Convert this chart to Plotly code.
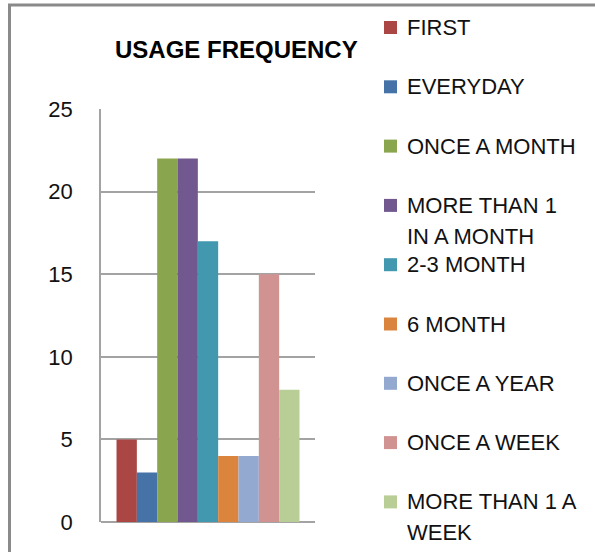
import plotly.graph_objects as go

# Survey responses: how often respondents use the service
series_names = [
    "FIRST",
    "EVERYDAY",
    "ONCE A MONTH",
    "MORE THAN 1\nIN A MONTH",
    "2-3 MONTH",
    "6 MONTH",
    "ONCE A YEAR",
    "ONCE A WEEK",
    "MORE THAN 1 A\nWEEK",
]
series_values = [5, 3, 22, 22, 17, 4, 4, 15, 8]
series_colors = [
    "#AA4643", "#4572A7", "#89A54E", "#71588F", "#4198AF",
    "#DB843D", "#93A9CF", "#D19392", "#B9CD96",
]
y_ticks = [0, 5, 10, 15, 20, 25]

W, H = 595, 552
ML, MR, MT, MB = 101, 280, 109, 30
PW, PH = W - ML - MR, H - MT - MB


def px(x):
    return (x - ML) / PW


def py(y):
    return (H - MB - y) / PH


FONT = "Liberation Sans, Arial, sans-serif"

fig = go.Figure()
for name, val, col in zip(series_names, series_values, series_colors):
    fig.add_trace(go.Bar(
        x=[""], y=[val], name=name.replace("\n", " "),
        marker=dict(color=col, line=dict(width=0)),
        showlegend=False,
    ))

shapes = []
annotations = []

# Outer chart frame (continues past the right and bottom edges)
shapes.append(dict(
    type="rect", xref="paper", yref="paper",
    x0=px(9.5), x1=px(W + 20), y0=py(5), y1=py(H + 20),
    line=dict(color="#8A8A8A", width=3), fillcolor="rgba(0,0,0,0)",
    layer="above",
))

# Title
annotations.append(dict(
    text="<b>USAGE FREQUENCY</b>", xref="paper", yref="paper",
    x=px(236.5), y=py(49), xanchor="center", yanchor="middle",
    showarrow=False, font=dict(family=FONT, size=24, color="#000000"),
))

# Legend drawn as colour keys with labels, one row every 59 px
row_top = 27.5
row_step = 59.3
line_step = 31
for i, (name, col) in enumerate(zip(series_names, series_colors)):
    cy = row_top + i * row_step
    shapes.append(dict(
        type="rect", xref="paper", yref="paper",
        x0=px(384), x1=px(397), y0=py(cy - 6.5), y1=py(cy + 6.5),
        fillcolor=col, line=dict(width=0),
    ))
    for j, part in enumerate(name.split("\n")):
        annotations.append(dict(
            text=part, xref="paper", yref="paper",
            x=px(405), y=py(cy + j * line_step), xanchor="left", yanchor="middle",
            showarrow=False, font=dict(family=FONT, size=22, color="#111111"),
        ))

fig.update_layout(
    width=W, height=H,
    margin=dict(l=ML, r=MR, t=MT, b=MB, pad=0),
    paper_bgcolor="white", plot_bgcolor="white",
    barmode="group", bargap=0.145, bargroupgap=0,
    shapes=shapes, annotations=annotations,
    showlegend=False,
    font=dict(family=FONT),
)
fig.update_xaxes(
    showticklabels=False, ticks="", showgrid=False, zeroline=False,
    showline=False,
)
fig.update_yaxes(
    range=[0, 25], tickvals=y_ticks, ticks="", ticklabelstandoff=22,
    tickfont=dict(family=FONT, size=22, color="#111111"),
    showgrid=True, gridcolor="#A3A3A3", gridwidth=1.5,
    zeroline=True, zerolinecolor="#A3A3A3", zerolinewidth=2,
    showline=True, linecolor="#A3A3A3", linewidth=1.5,
)

fig.write_html("out.html")
